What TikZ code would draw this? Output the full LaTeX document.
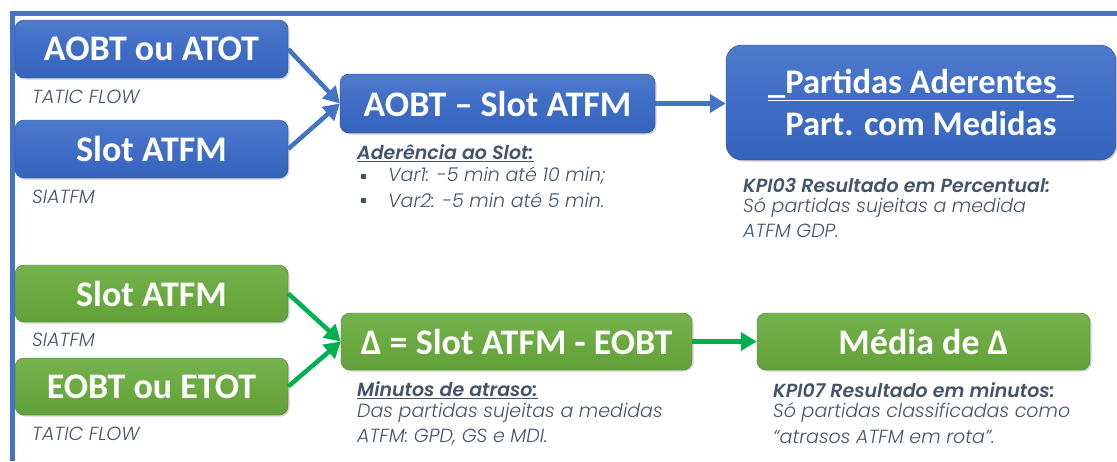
\documentclass[tikz,border=0pt]{standalone}
\usepackage{fontspec}
\usetikzlibrary{arrows.meta,shadows}
\newfontfamily\boxfont{Carlito}
\newfontfamily\gothic{Poppins}[ItalicFont={Poppins Light Italic}, BoldItalicFont={Poppins SemiBold Italic}]
\definecolor{framecol}{HTML}{4472C4}
\definecolor{bluetop}{HTML}{5E87D2}
\definecolor{bluemid}{HTML}{3F6DC5}
\definecolor{bluebot}{HTML}{2F5CB3}
\definecolor{bluedark}{HTML}{22407A}
\definecolor{greentop}{HTML}{80BB5D}
\definecolor{greenmid}{HTML}{6AAA40}
\definecolor{greenbot}{HTML}{5C9A34}
\definecolor{greendark}{HTML}{3C6620}
\definecolor{bluearrow}{HTML}{4472C4}
\definecolor{greenarrow}{HTML}{00B050}
\definecolor{txtgray}{HTML}{44546A}
\pgfdeclareverticalshading{blueshade}{100bp}{color(0bp)=(bluedark); color(5bp)=(bluebot); color(50bp)=(bluemid); color(100bp)=(bluetop)}
\pgfdeclareverticalshading{greenshade}{100bp}{color(0bp)=(greendark); color(5bp)=(greenbot); color(50bp)=(greenmid); color(100bp)=(greentop)}
\tikzset{
  boxbase/.style={rounded corners=9pt, text=white, font=\boxfont\bfseries\fontsize{36}{42}\selectfont, inner sep=0pt,
    drop shadow={opacity=0.35, shadow xshift=1.5pt, shadow yshift=-1.5pt}},
  bluebox/.style={boxbase, shading=blueshade, draw=bluebot!80!black, line width=0.4pt},
  greenbox/.style={boxbase, shading=greenshade, draw=greenbot!80!black, line width=0.4pt},
  lbl/.style={anchor=west, inner sep=0pt, text=txtgray, font=\gothic\itshape\fontsize{19}{22}\selectfont},
  lblb/.style={lbl, font=\gothic\bfseries\itshape\fontsize{19}{22}\selectfont},
  bul/.style={fill=txtgray, inner sep=0pt, minimum size=5pt},
  barrow/.style={bluearrow, line width=4.5pt, -{Triangle[length=16pt,width=18pt]}},
  garrow/.style={greenarrow, line width=4.5pt, -{Triangle[length=16pt,width=18pt]}},
}
\begin{document}
\begin{tikzpicture}[x=1pt,y=-1pt]
\useasboundingbox (0,0) rectangle (1117,461);
\draw[framecol, line width=5pt] (12.5,461) -- (12.5,13.5) -- (1117,13.5);

% blue row
\node[bluebox, minimum width=273pt, minimum height=58pt] (aobt) at (151.5,49) {AOBT ou ATOT};
\node[bluebox, minimum width=273pt, minimum height=58pt] (slotb) at (151.5,149) {Slot ATFM};
\node[bluebox, minimum width=315pt, minimum height=59pt] (diff) at (497.5,103.5) {AOBT – Slot ATFM};
\node[bluebox, rounded corners=16pt, minimum width=390pt, minimum height=115pt, align=center, font=\boxfont\bfseries\fontsize{34.5}{42}\selectfont] (part) at (921,102.5) {\underline{\_Partidas Aderentes\_}\\Part. com Medidas};

\node[lbl] (l1) at (32,97) {TATIC FLOW};
\node[lbl] (l2) at (32,197) {SIATFM};

\node[lblb] (ad) at (357,153) {\underline{Aderência ao Slot:}};
\node[bul] (b1) at (363,176) {};
\node[bul] (b2) at (363,200) {};
\node[lbl] (v1) at (388,176) {Var1: -5 min até 10 min;};
\node[lbl] (v2) at (388,200) {Var2: -5 min até 5 min.};

\node[lblb] (k3) at (743,185) {KPI03 Resultado em Percentual:};
\node[lbl] (k3a) at (743,208) {Só partidas sujeitas a medida};
\node[lbl] (k3b) at (743,231) {ATFM GDP.};

\draw[barrow] (aobt.east) -- (diff.west);
\draw[barrow] (slotb.east) -- (diff.west);
\draw[barrow] (diff.east) -- (diff.east -| part.west);

% green row
\node[greenbox, minimum width=273pt, minimum height=57pt] (slotg) at (151.5,293.5) {Slot ATFM};
\node[greenbox, minimum width=273pt, minimum height=57pt] (eobt) at (151.5,386.5) {EOBT ou ETOT};
\node[greenbox, minimum width=351pt, minimum height=57pt] (delta) at (516.5,341.5) {Δ = Slot ATFM - EOBT};
\node[greenbox, minimum width=333pt, minimum height=57pt] (media) at (923.5,341.5) {Média de Δ};

\node[lbl] (l3) at (32,340) {SIATFM};
\node[lbl] (l4) at (32,434) {TATIC FLOW};

\node[lblb] (mn) at (357,390) {\underline{Minutos de atraso:}};
\node[lbl] (mna) at (357,413) {Das partidas sujeitas a medidas};
\node[lbl] (mnb) at (357,437) {ATFM: GPD, GS e MDI.};

\node[lblb] (k7) at (773,390) {KPI07 Resultado em minutos:};
\node[lbl] (k7a) at (773,413) {Só partidas classificadas como};
\node[lbl] (k7b) at (773,437) {“atrasos ATFM em rota”.};

\draw[garrow] (slotg.east) -- (delta.west);
\draw[garrow] (eobt.east) -- (delta.west);
\draw[garrow] (delta.east) -- (media.west);
\end{tikzpicture}
\end{document}
